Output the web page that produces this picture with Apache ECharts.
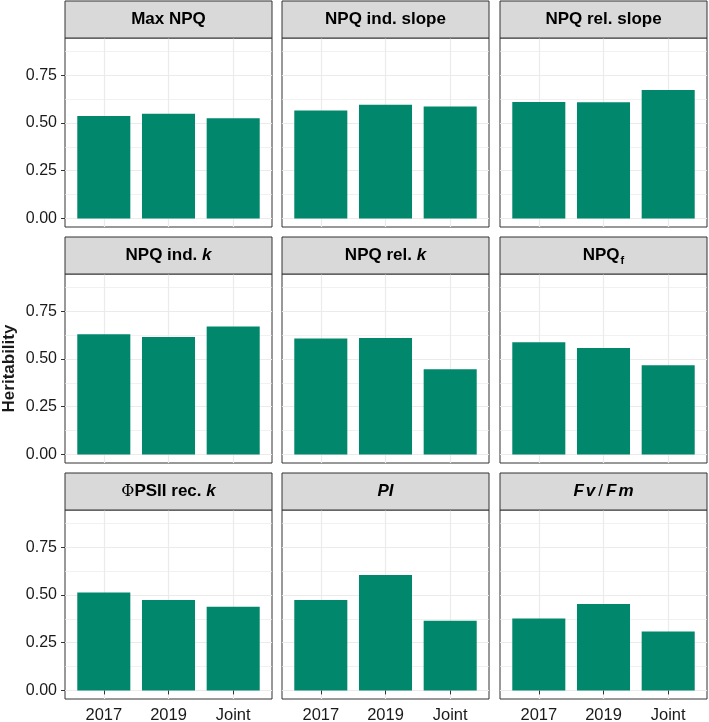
<!DOCTYPE html>
<html>
<head>
<meta charset="utf-8">
<script src="https://cdn.jsdelivr.net/npm/echarts@6/dist/echarts.min.js"></script>
<style>
    html, body { margin: 0; padding: 0; background: #fff; }
    #chart { width: 709px; height: 722px; }
</style>
</head>
<body>
<div id="chart"></div>
<script>
const categories = ["2017", "2019", "Joint"];

const maxNPQ = [0.536, 0.548, 0.525];
const npqIndSlope = [0.565, 0.595, 0.586];
const npqRelSlope = [0.610, 0.609, 0.673];
const npqIndK = [0.630, 0.615, 0.670];
const npqRelK = [0.607, 0.610, 0.446];
const npqF = [0.588, 0.558, 0.467];
const phiPSIIRecK = [0.513, 0.473, 0.438];
const perfIndex = [0.473, 0.604, 0.365];
const fvFm = [0.377, 0.452, 0.308];

const yTicks = [0, 0.25, 0.5, 0.75];
const yMinorTicks = [0.125, 0.375, 0.625, 0.875];

// strip labels (rich text: k, PI, Fv/Fm in italic, f as subscript)
const panelTitles = [
    "{b|Max NPQ}",
    "{b|NPQ ind. slope}",
    "{b|NPQ rel. slope}",
    "{b|NPQ ind. }{bi|k}",
    "{b|NPQ rel. }{bi|k}",
    "{b|NPQ}{sub|f}",
    "{phi|Φ}{b|PSII rec. }{bi|k}",
    "{bi|PI}",
    "{bi|F}{bis|v}{sl|/}{bi|F}{bis|m}",
];
const panelValues = [
    maxNPQ, npqIndSlope, npqRelSlope,
    npqIndK, npqRelK, npqF,
    phiPSIIRecK, perfIndex, fvFm,
];

const barColor = "#01876C";
const gridColor = "#EBEBEB";
const frameColor = "#333333";
const textColor = "#1A1A1A";
const font = "'Liberation Sans', Arial, sans-serif";

const colLeft = [65, 282, 500];
const rowTop = [38, 274, 510];
const panelW = 207;
const panelH = 189;
const stripH = 37;

const richStyles = {
    b: { fontFamily: font, fontWeight: "bold", fontSize: 17, color: textColor, lineHeight: 20 },
    bi: { fontFamily: font, fontWeight: "bold", fontStyle: "italic", fontSize: 17, color: textColor, lineHeight: 20 },
    bis: { fontFamily: font, fontWeight: "bold", fontStyle: "italic", fontSize: 17, color: textColor, lineHeight: 20, padding: [0, 0, 0, 2] },
    sub: { fontFamily: font, fontWeight: "bold", fontSize: 11, color: textColor, lineHeight: 14, padding: [10, 0, 0, 1] },
    phi: { fontFamily: "'DejaVu Serif', serif", fontSize: 16, color: textColor, lineHeight: 20 },
    sl: { fontFamily: font, fontSize: 17, color: textColor, lineHeight: 20, padding: [0, 3, 0, 3] },
};

const grids = [];
const xAxes = [];
const yAxes = [];
const series = [];
const graphics = [];

panelValues.forEach((values, i) => {
    const row = Math.floor(i / 3);
    const col = i % 3;
    const isBottom = row === 2;
    const isLeft = col === 0;

    grids.push({
        left: colLeft[col],
        top: rowTop[row],
        width: panelW,
        height: panelH,
        show: true,
        backgroundColor: "#fff",
        borderColor: frameColor,
        borderWidth: 1,
        outerBoundsMode: "none",
    });

    xAxes.push({
        type: "value",
        gridIndex: i,
        min: 0.4,
        max: 3.6,
        axisLine: { show: false },
        axisTick: {
            show: isBottom,
            customValues: [1, 2, 3],
            length: 4,
            lineStyle: { color: frameColor },
        },
        axisLabel: {
            show: isBottom,
            customValues: [1, 2, 3],
            formatter: (v) => categories[Math.round(v) - 1],
            fontFamily: font,
            fontSize: 16.5,
            color: textColor,
            margin: 8,
        },
        splitLine: { show: true, lineStyle: { color: gridColor, width: 1.2 } },
    });

    // major y axis
    yAxes.push({
        type: "value",
        gridIndex: i,
        min: -0.045,
        max: 0.945,
        axisLine: { show: false },
        axisTick: {
            show: isLeft,
            customValues: yTicks,
            length: 4,
            lineStyle: { color: frameColor },
        },
        axisLabel: {
            show: isLeft,
            customValues: yTicks,
            formatter: (v) => v.toFixed(2),
            fontFamily: font,
            fontSize: 16,
            color: textColor,
            margin: 8,
        },
        splitLine: { show: true, lineStyle: { color: gridColor, width: 1.2 } },
        name: i === 3 ? "Heritability" : "",
        nameLocation: "middle",
        nameGap: 47,
        nameTextStyle: { fontFamily: font, fontWeight: "bold", fontSize: 17, color: textColor },
    });

    // minor grid lines
    yAxes.push({
        type: "value",
        gridIndex: i,
        min: -0.045,
        max: 0.945,
        axisLine: { show: false },
        axisTick: { show: false, customValues: yMinorTicks },
        axisLabel: { show: false, customValues: yMinorTicks },
        splitLine: { show: true, lineStyle: { color: gridColor, width: 0.7 } },
    });

    series.push({
        type: "bar",
        xAxisIndex: i,
        yAxisIndex: i * 2,
        barWidth: "82%",
        itemStyle: { color: barColor },
        data: values.map((v, k) => [k + 1, v]),
        silent: true,
        z: 3,
    });

    graphics.push({
        type: "rect",
        shape: { x: colLeft[col], y: rowTop[row] - stripH, width: panelW, height: stripH },
        style: { fill: "#D9D9D9", stroke: frameColor, lineWidth: 1 },
        z: 10,
    });
    graphics.push({
        type: "text",
        x: colLeft[col] + panelW / 2,
        y: rowTop[row] - stripH / 2,
        style: {
            text: panelTitles[i],
            align: "center",
            verticalAlign: "middle",
            rich: richStyles,
        },
        z: 11,
    });
});

const chart = echarts.init(document.getElementById("chart"));
chart.setOption({
    animation: false,
    grid: grids,
    xAxis: xAxes,
    yAxis: yAxes,
    series: series,
    graphic: graphics,
});
</script>
</body>
</html>
